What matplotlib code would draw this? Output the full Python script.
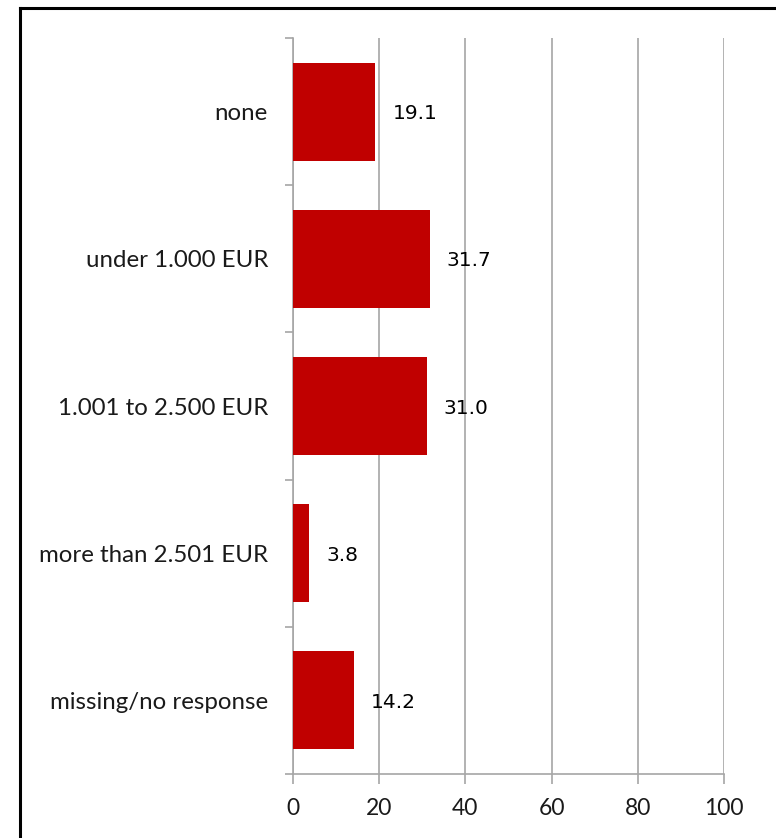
import matplotlib
matplotlib.use('Agg')
import matplotlib.pyplot as plt
from matplotlib.lines import Line2D

categories = ['none', 'under 1.000 EUR', '1.001 to 2.500 EUR',
              'more than 2.501 EUR', 'missing/no response']
values = [19.1, 31.7, 31.0, 3.8, 14.2]
xticks = [0, 20, 40, 60, 80, 100]

W, H = 776, 838
fig = plt.figure(figsize=(W / 100, H / 100), dpi=100)
ax = fig.add_axes([293 / W, 1 - 774 / H, (724 - 293) / W, (774 - 38) / H])

grey = '#a6a6a6'
pos = list(range(len(categories)))
ax.barh(pos, values, height=0.667, color='#c00000', zorder=3)

for p, v in zip(pos, values):
    ax.annotate('%.1f' % v, (v, p), xytext=(17, -2), textcoords='offset pixels',
                va='center', ha='left', fontsize=14.5, family='DejaVu Sans',
                color='black')

ax.set_xlim(0, 100)
ax.set_ylim(len(categories) - 0.5, -0.5)
ax.set_xticks(xticks)
ax.set_xticklabels([str(t) for t in xticks], family='Lato', fontsize=16.5)
ax.set_yticks(pos)
ax.set_yticklabels(categories, family='Lato', fontsize=17.3)
ax.set_yticks([i - 0.5 for i in range(len(categories) + 1)], minor=True)
ax.tick_params(axis='y', which='major', length=0, pad=18, colors='#1a1a1a')
ax.tick_params(axis='y', which='minor', length=6, color=grey, width=1.2)
ax.tick_params(axis='x', length=7, width=1.2, pad=10, colors='#1a1a1a')
ax.tick_params(axis='x', color=grey)

ax.grid(axis='x', color=grey, linewidth=1.2, zorder=0)
for s in ['top', 'right']:
    ax.spines[s].set_visible(False)
for s in ['left', 'bottom']:
    ax.spines[s].set_color(grey)
    ax.spines[s].set_linewidth(1.2)

# outer frame (right and bottom edges fall outside the picture)
fig.add_artist(Line2D([20 / W, 20 / W], [1 - 8 / H, 0], color='black', lw=2.2,
                      transform=fig.transFigure))
fig.add_artist(Line2D([20 / W, 1], [1 - 8 / H, 1 - 8 / H], color='black', lw=2.2,
                      transform=fig.transFigure))

fig.savefig('out.png', dpi=100)
